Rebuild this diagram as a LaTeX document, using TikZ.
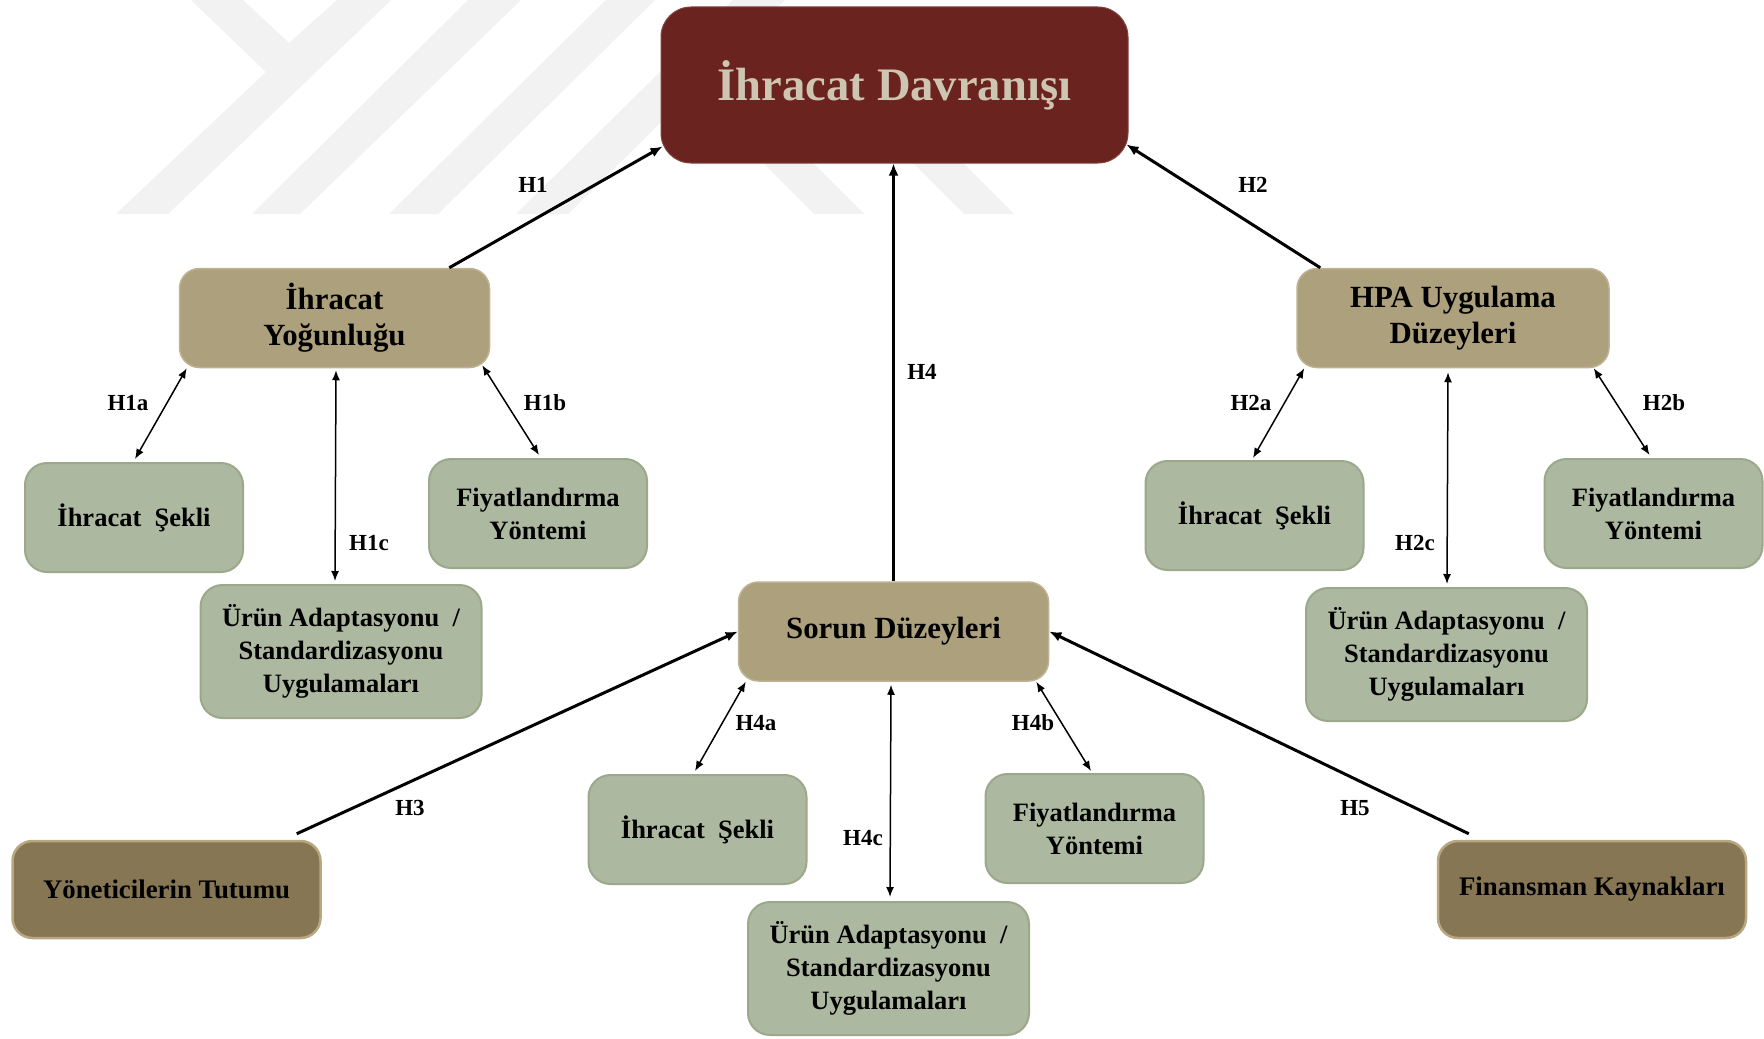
\documentclass[tikz,border=0pt]{standalone}
\usepackage{fontspec}
\setmainfont{Liberation Serif}
\usetikzlibrary{arrows.meta,calc}

\definecolor{maroon}{RGB}{107,35,31}
\definecolor{titletext}{RGB}{206,197,176}
\definecolor{tanfill}{RGB}{173,160,124}
\definecolor{tanline}{RGB}{190,178,145}
\definecolor{sagefill}{RGB}{173,184,160}
\definecolor{sageline}{RGB}{155,168,138}
\definecolor{umberfill}{RGB}{134,118,84}
\definecolor{umberline}{RGB}{184,168,130}
\definecolor{wmgray}{RGB}{242,242,242}

\begin{document}
\begin{tikzpicture}[x=0.5pt,y=-0.5pt,
  box/.style={rounded corners=10pt, align=center, inner sep=0pt},
  titlebox/.style={box, fill=maroon, draw=maroon!85!white, line width=0.5pt,
    rounded corners=15pt, text=titletext,
    font=\bfseries\fontsize{23.3}{27}\selectfont},
  factor/.style={box, fill=tanfill, draw=tanline, line width=0.75pt,
    minimum width=155pt, minimum height=49.5pt,
    font=\bfseries\fontsize{15.4}{18}\selectfont},
  detail/.style={box, fill=sagefill, draw=sageline, line width=1pt,
    rounded corners=11pt, font=\bfseries\fontsize{13.25}{16.5}\selectfont},
  smallbox/.style={detail, minimum width=109pt, minimum height=54.5pt},
  widebox/.style={detail, minimum width=140.5pt, minimum height=66.5pt},
  source/.style={box, fill=umberfill, draw=umberline, line width=1.25pt,
    minimum width=154pt, minimum height=48.5pt,
    font=\bfseries\fontsize{13.4}{16.5}\selectfont},
  main/.style={line width=1.5pt, -{Latex[length=6pt,width=5pt]}},
  link/.style={line width=0.75pt,
    {Latex[length=5pt,width=4pt]}-{Latex[length=5pt,width=4pt]}},
  hyp/.style={font=\bfseries\fontsize{11.5}{13}\selectfont, inner sep=0pt}
]
\useasboundingbox (0,0) rectangle (1764,1038);
\fill[white] (0,0) rectangle (1764,1038);

% faint logo watermark in the upper left
\fill[wmgray] (191,0) -- (243,0) -- (289,43) -- (337,0) -- (391,0)
  -- (168,214) -- (116,214) -- (266,72) -- cycle;
\fill[wmgray] (468,0) -- (521,0) -- (300,214) -- (252,214) -- cycle;
\fill[wmgray] (606,0) -- (655,0) -- (438,214) -- (389,214) -- cycle;
\fill[wmgray] (733,0) -- (785,0) -- (568,214) -- (516,214) -- cycle;
\fill[wmgray] (700,100) -- (750,100) -- (864,214) -- (814,214) -- cycle;
\fill[wmgray] (850,100) -- (900,100) -- (1014,214) -- (964,214) -- cycle;

% central outcome
\node[titlebox, minimum width=233.5pt, minimum height=78pt] (top) at (894.5,85) {İhracat Davranışı};

% determinants
\node[factor] (yog) at (334.5,318) {İhracat\\Yoğunluğu};
\node[factor, minimum width=156pt] (hpa) at (1453,318) {HPA Uygulama\\Düzeyleri};
\node[factor] (sorun) at (893.5,631.5) {Sorun Düzeyleri};

% sub-dimensions, left group
\node[smallbox] (sk1) at (134,517.5) {İhracat~ Şekli};
\node[smallbox] (fy1) at (538,513.5) {Fiyatlandırma\\Yöntemi};
\node[widebox] (ur1) at (341,651.5) {Ürün Adaptasyonu~ /\\Standardizasyonu\\Uygulamaları};

% sub-dimensions, right group
\node[smallbox] (sk2) at (1254.5,515.5) {İhracat~ Şekli};
\node[smallbox] (fy2) at (1653.5,513.5) {Fiyatlandırma\\Yöntemi};
\node[widebox] (ur2) at (1446.5,654.5) {Ürün Adaptasyonu~ /\\Standardizasyonu\\Uygulamaları};

% sub-dimensions, lower group
\node[smallbox] (sk3) at (697.5,829.5) {İhracat~ Şekli};
\node[smallbox] (fy3) at (1094.5,828.5) {Fiyatlandırma\\Yöntemi};
\node[widebox] (ur3) at (888.5,968.5) {Ürün Adaptasyonu~ /\\Standardizasyonu\\Uygulamaları};

% external factors
\node[source] (yon) at (166.5,889.5) {Yöneticilerin Tutumu};
\node[source] (fin) at (1592,889.5) {Finansman Kaynakları};

% main hypotheses
\draw[main] ($(yog.north east)+(-41,0)$) -- ($(top.south west)+(2,-17)$);
\draw[main] ($(hpa.north west)+(24,0)$) -- ($(top.south east)+(-2,-19)$);
\draw[main] (sorun.north) -- (sorun.north |- top.south);
\draw[main] ($(yon.north east)+(-25,-6)$) -- (sorun.west);
\draw[main] ($(fin.north west)+(32,-6)$) -- (sorun.east);

% sub-hypotheses
\draw[link] ($(yog.south west)+(8,0)$) -- ($(sk1.north)+(1,-3)$);
\draw[link] ($(yog.south)+(1.5,2)$) -- ($(ur1.north)+(-6,-3)$);
\draw[link] ($(yog.south east)+(-8,-3)$) -- ($(fy1.north)+(1,-3)$);
\draw[link] ($(hpa.south west)+(8,0)$) -- ($(sk2.north)+(-1.5,-2)$);
\draw[link] ($(hpa.south)+(-5,4)$) -- ($(ur2.north)+(0.5,-3)$);
\draw[link] ($(hpa.south east)+(-16,0)$) -- ($(fy2.north)+(-4,-3)$);
\draw[link] ($(sorun.south west)+(8,0)$) -- ($(sk3.north)+(-2.5,-3)$);
\draw[link] ($(sorun.south)+(-2.5,3)$) -- ($(ur3.north)+(1.5,-4)$);
\draw[link] ($(sorun.south east)+(-13,0)$) -- ($(fy3.north)+(-3.5,-2)$);

% hypothesis labels
\node[hyp] (lh1) at (533,185) {H1};
\node[hyp] (lh2) at (1253,185) {H2};
\node[hyp] (lh4) at (922,372) {H4};
\node[hyp] (lh1a) at (128,403) {H1a};
\node[hyp] (lh1b) at (545,403) {H1b};
\node[hyp] (lh1c) at (369,543) {H1c};
\node[hyp] (lh2a) at (1251,403) {H2a};
\node[hyp] (lh2b) at (1664,403) {H2b};
\node[hyp] (lh2c) at (1415,543) {H2c};
\node[hyp] (lh3) at (410,808) {H3};
\node[hyp] (lh4a) at (756,723) {H4a};
\node[hyp] (lh4b) at (1033,723) {H4b};
\node[hyp] (lh4c) at (863,838) {H4c};
\node[hyp] (lh5) at (1355,808) {H5};
\end{tikzpicture}
\end{document}
